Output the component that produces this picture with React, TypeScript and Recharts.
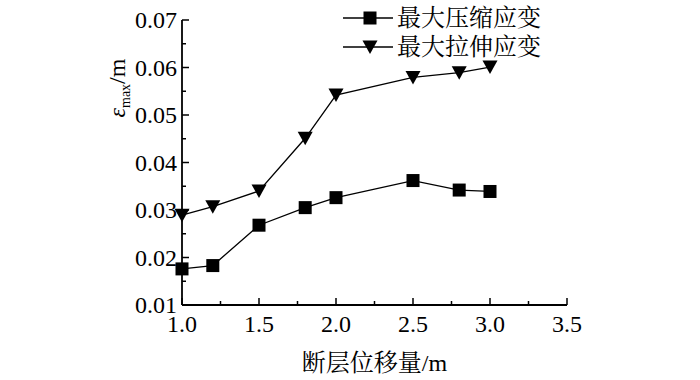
import React from "react";
import { LineChart, Line, XAxis, YAxis } from "recharts";

const displacement = [1.0, 1.2, 1.5, 1.8, 2.0, 2.5, 2.8, 3.0];
const compressStrain = [0.0176, 0.0183, 0.0268, 0.0305, 0.0326, 0.0362, 0.0342, 0.0339];
const tensileStrain = [0.0289, 0.0307, 0.034, 0.0451, 0.0542, 0.0579, 0.0589, 0.0601];

const xTicks = [1.0, 1.25, 1.5, 1.75, 2.0, 2.25, 2.5, 2.75, 3.0, 3.25, 3.5];
const yTicks = [0.01, 0.015, 0.02, 0.025, 0.03, 0.035, 0.04, 0.045, 0.05, 0.055, 0.06, 0.065, 0.07];

const seriesNames = ["最大压缩应变", "最大拉伸应变"];

const data = displacement.map((d, i) => ({
  d,
  compress: compressStrain[i],
  tensile: tensileStrain[i],
}));

const FONT = "'Liberation Serif', 'Times New Roman', 'Noto Serif CJK SC', 'Noto Sans CJK SC', serif";

const isMajor = (v: number, step: number) => Math.abs(v / step - Math.round(v / step)) < 1e-6;

const XTick = (props: any) => {
  const { x, y, payload } = props;
  const major = isMajor(payload.value, 0.5);
  return (
    <g>
      <line x1={x} x2={x} y1={y} y2={y - (major ? 7 : 4)} stroke="#000" strokeWidth={1.5} />
      {major && (
        <text x={x} y={y + 27} textAnchor="middle" fontSize={24} fontFamily={FONT} fill="#000">
          {payload.value.toFixed(1)}
        </text>
      )}
    </g>
  );
};

const YTick = (props: any) => {
  const { x, y, payload } = props;
  const major = isMajor(payload.value, 0.01);
  return (
    <g>
      <line x1={x} x2={x + (major ? 7 : 4)} y1={y} y2={y} stroke="#000" strokeWidth={1.5} />
      {major && (
        <text x={x - 5} y={y + 8} textAnchor="end" fontSize={24} fontFamily={FONT} fill="#000">
          {payload.value.toFixed(2)}
        </text>
      )}
    </g>
  );
};

const Square = (props: any) => {
  const { cx, cy } = props;
  if (cx == null || cy == null) return <g />;
  return <rect x={cx - 6.5} y={cy - 6.5} width={13} height={13} fill="#000" />;
};

const Triangle = (props: any) => {
  const { cx, cy } = props;
  if (cx == null || cy == null) return <g />;
  return <path d={`M${cx - 7.5},${cy - 6.5} L${cx + 7.5},${cy - 6.5} L${cx},${cy + 7} Z`} fill="#000" />;
};

const LegendBox = () => (
  <svg width={220} height={64} style={{ position: "absolute", left: 341, top: 0 }}>
    {seriesNames.map((name, i) => {
      const cy = 18 + i * 29;
      return (
        <g key={name}>
          <line x1={2} x2={52} y1={cy} y2={cy} stroke="#000" strokeWidth={1.3} />
          {i === 0 ? <Square cx={29} cy={cy} /> : <Triangle cx={29} cy={cy} />}
          <text x={56} y={cy + 8} fontSize={24} fontFamily={FONT} fill="#000">
            {name}
          </text>
        </g>
      );
    })}
  </svg>
);

export default function App() {
  return (
    <div style={{ position: "absolute", left: 0, top: 0, width: 700, height: 380, background: "#fff" }}>
      <LineChart width={700} height={380} data={data} margin={{ top: 20, right: 133, left: 0, bottom: 0 }}>
        <XAxis
          dataKey="d"
          type="number"
          domain={[1, 3.5]}
          ticks={xTicks}
          interval={0}
          height={75}
          tickSize={0}
          tickMargin={0}
          tickLine={false}
          tick={<XTick />}
          axisLine={{ stroke: "#000", strokeWidth: 1.8 }}
          label={({ viewBox }: any) => (
            <text
              x={viewBox.x + viewBox.width / 2}
              y={viewBox.y + 66}
              textAnchor="middle"
              fontSize={24}
              fontFamily={FONT}
              fill="#000"
            >
              断层位移量/m
            </text>
          )}
        />
        <YAxis
          type="number"
          domain={[0.01, 0.07]}
          ticks={yTicks}
          interval={0}
          width={182}
          tickSize={0}
          tickMargin={0}
          tickLine={false}
          tick={<YTick />}
          axisLine={{ stroke: "#000", strokeWidth: 1.8 }}
          label={() => (
            <text
              transform="translate(125,88) rotate(-90)"
              textAnchor="middle"
              fontSize={24}
              fontFamily={FONT}
              fill="#000"
            >
              <tspan fontStyle="italic">ε</tspan>
              <tspan fontSize={14} dy={5}>max</tspan>
              <tspan dy={-5}>/m</tspan>
            </text>
          )}
        />
        <Line
          dataKey="compress"
          name={seriesNames[0]}
          stroke="#000"
          strokeWidth={1.3}
          dot={<Square />}
          activeDot={false}
          isAnimationActive={false}
        />
        <Line
          dataKey="tensile"
          name={seriesNames[1]}
          stroke="#000"
          strokeWidth={1.3}
          dot={<Triangle />}
          activeDot={false}
          isAnimationActive={false}
        />
      </LineChart>
      <LegendBox />
    </div>
  );
}
